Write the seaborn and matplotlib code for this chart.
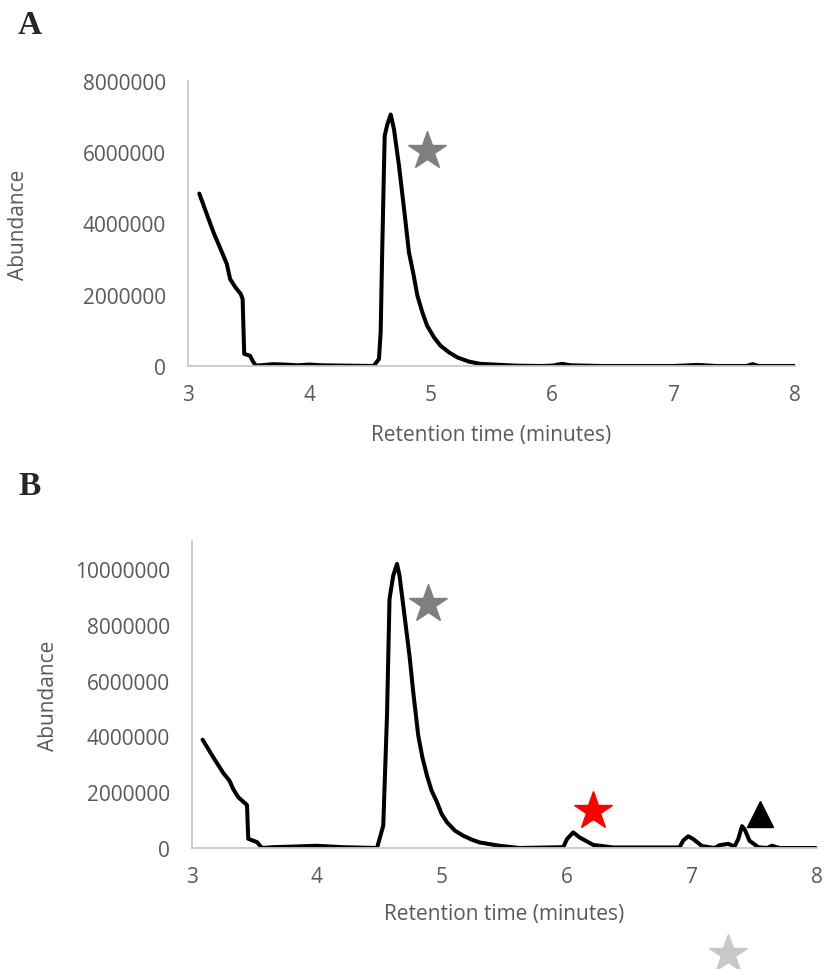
import matplotlib
matplotlib.use("Agg")
import matplotlib.pyplot as plt
import seaborn as sns
import pandas as pd

# Chromatogram A (retention time in minutes, abundance)
time_a = [3.093, 3.14, 3.21, 3.28, 3.32, 3.347, 3.39, 3.435, 3.45, 3.463, 3.51, 3.54, 3.56,
          3.6, 3.7, 3.8, 3.9, 4.0, 4.1, 4.3, 4.53,
          4.573, 4.587, 4.60, 4.62, 4.642, 4.67, 4.697, 4.738, 4.78, 4.82, 4.854, 4.89,
          4.931, 4.97, 5.027, 5.08, 5.151, 5.22, 5.317, 5.41, 5.58, 5.7, 5.9, 6.0, 6.08,
          6.15, 6.4, 7.0, 7.2, 7.35, 7.6, 7.65, 7.7, 8.0]
abund_a = [4.84e6, 4.40e6, 3.75e6, 3.19e6, 2.86e6, 2.44e6, 2.21e6, 2.02e6, 1.88e6, 0.34e6,
           0.29e6, 0.10e6, 0.01e6,
           0.02e6, 0.05e6, 0.04e6, 0.02e6, 0.04e6, 0.02e6, 0.01e6, 0.0,
           0.2e6, 0.95e6, 3.28e6, 6.46e6, 6.78e6, 7.06e6, 6.64e6, 5.62e6, 4.40e6, 3.19e6,
           2.63e6, 1.97e6, 1.50e6, 1.13e6, 0.80e6, 0.57e6, 0.38e6, 0.24e6, 0.12e6, 0.06e6,
           0.03e6, 0.01e6, 0.0, 0.01e6, 0.06e6, 0.02e6, 0.0, 0.0, 0.03e6, 0.0, 0.0,
           0.05e6, 0.0, 0.0]

# Chromatogram B
time_b = [3.085, 3.17, 3.25, 3.30, 3.33, 3.37, 3.44, 3.45, 3.52, 3.56,
          3.65, 3.8, 4.0, 4.2, 4.48,
          4.50, 4.53, 4.56, 4.58, 4.61, 4.64, 4.66, 4.70, 4.74, 4.77, 4.81, 4.843, 4.88,
          4.917, 4.96, 4.997, 5.04, 5.104, 5.17, 5.238, 5.30, 5.46, 5.62, 5.97, 6.0, 6.05,
          6.10, 6.21, 6.37, 6.90, 6.93, 6.97, 7.01, 7.08, 7.18, 7.22, 7.29, 7.34, 7.37,
          7.40, 7.42, 7.46, 7.53, 7.6, 7.64, 7.70, 7.99]
abund_b = [3.88e6, 3.25e6, 2.69e6, 2.41e6, 2.11e6, 1.82e6, 1.54e6, 0.33e6, 0.21e6, 0.0,
           0.03e6, 0.05e6, 0.08e6, 0.03e6, 0.0,
           0.32e6, 0.80e6, 4.74e6, 8.92e6, 9.76e6, 10.18e6, 9.76e6, 8.33e6, 6.89e6, 5.58e6,
           4.03e6, 3.25e6, 2.59e6, 2.05e6, 1.64e6, 1.22e6, 0.92e6, 0.62e6, 0.44e6, 0.30e6,
           0.20e6, 0.08e6, 0.0, 0.03e6, 0.32e6, 0.56e6, 0.38e6, 0.11e6, 0.02e6, 0.02e6,
           0.27e6, 0.42e6, 0.32e6, 0.07e6, 0.0, 0.10e6, 0.15e6, 0.05e6, 0.32e6, 0.78e6,
           0.68e6, 0.26e6, 0.03e6, 0.0, 0.08e6, 0.0, 0.0]

# annotation symbols: (time, abundance, marker, colour, size)
marks_a = [(4.97, 6.03e6, "*", "#7f7f7f", 29)]
marks_b = [(4.89, 8.75e6, "*", "#7f7f7f", 29),
           (6.21, 1.33e6, "*", "#ff0000", 29),
           (7.54, 1.22e6, "^", "#000000", 19),
           (7.29, -3.8e6, "*", "#c8c8c8", 29)]

yticks_a = [0, 2000000, 4000000, 6000000, 8000000]
yticks_b = [0, 2000000, 4000000, 6000000, 8000000, 10000000]
xticks = [3, 4, 5, 6, 7, 8]

sns.set_style("white")
plt.rcParams["font.family"] = ["Open Sans", "DejaVu Sans"]

grey_text = "#595959"
axis_col = "#c8c8c8"

fig = plt.figure(figsize=(8.25, 9.7), dpi=100)
ax_a = fig.add_axes([188 / 825, 1 - 367 / 970, 607 / 825, 285 / 970])
ax_b = fig.add_axes([192 / 825, 1 - 849 / 970, 625 / 825, 307 / 970])

panels = [
    (ax_a, time_a, abund_a, marks_a, yticks_a, (0, 8000000), (-0.262, 0.5), (0.5, -0.205)),
    (ax_b, time_b, abund_b, marks_b, yticks_b, (0, 11000000), (-0.213, 0.5), (0.5, -0.178)),
]

for ax, t, a, marks, yt, ylim, ylab_pos, xlab_pos in panels:
    df = pd.DataFrame({"time": t, "abundance": a})
    sns.lineplot(data=df, x="time", y="abundance", ax=ax, color="black", linewidth=2.9,
                 sort=False, solid_joinstyle="round", solid_capstyle="round")
    for mx, my, mk, mc, ms in marks:
        ax.plot([mx], [my], marker=mk, color=mc, markersize=ms, linestyle="none",
                clip_on=False)
    ax.set_xlim(3, 8)
    ax.set_ylim(*ylim)
    ax.set_xticks(xticks)
    ax.set_yticks(yt)
    ax.set_yticklabels([str(v) for v in yt])
    ax.set_xticklabels([str(v) for v in xticks])
    for side in ["top", "right"]:
        ax.spines[side].set_visible(False)
    for side in ["left", "bottom"]:
        ax.spines[side].set_color(axis_col)
        ax.spines[side].set_linewidth(1.3)
    ax.tick_params(axis="both", direction="in", length=5, width=1.2, color=axis_col,
                   labelsize=15, labelcolor=grey_text)
    ax.tick_params(axis="x", pad=13)
    ax.tick_params(axis="y", pad=16)
    ax.set_xlabel("Retention time (minutes)", fontsize=15, color=grey_text)
    ax.set_ylabel("Abundance", fontsize=15, color=grey_text)
    ax.yaxis.set_label_coords(*ylab_pos)
    ax.xaxis.set_label_coords(*xlab_pos)

fig.text(30 / 825, 1 - 26 / 970, "A", fontsize=24, fontweight="bold",
         family="Liberation Serif", ha="center", va="center")
fig.text(30 / 825, 1 - 487 / 970, "B", fontsize=24, fontweight="bold",
         family="Liberation Serif", ha="center", va="center")

fig.savefig("out.png", dpi=100)
